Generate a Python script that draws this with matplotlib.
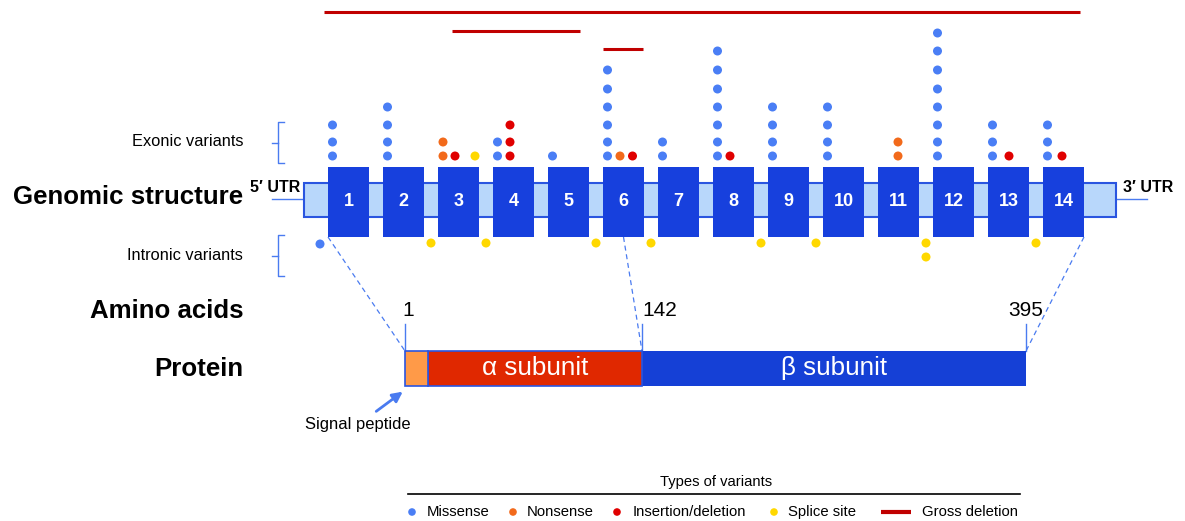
import matplotlib
matplotlib.use("Agg")
import matplotlib.pyplot as plt
from matplotlib.patches import Rectangle, FancyArrowPatch
import numpy as np

plt.rcParams['font.family'] = ['Liberation Sans', 'DejaVu Sans']

# ---- data ----
exons = list(range(1, 15))
missense = [3, 4, 0, 2, 1, 6, 2, 7, 4, 4, 0, 8, 3, 3]
nonsense = [0, 0, 2, 0, 0, 1, 0, 0, 0, 0, 2, 0, 0, 0]
indel = [0, 0, 1, 3, 0, 1, 0, 1, 0, 0, 0, 0, 1, 1]
splice_exonic = [0, 0, 1, 0, 0, 0, 0, 0, 0, 0, 0, 0, 0, 0]
# intronic variants, key = intron index (0 = upstream of exon 1, k = after exon k)
intron_missense = {0: 1}
intron_splice = {2: 1, 3: 1, 5: 1, 6: 1, 8: 1, 9: 1, 11: 2, 13: 1}
# gross deletions in exon units (k = left edge of exon k)
gross_del = [(0.93, 14.67), (3.25, 5.58), (6.0, 6.73)]
aa_marks = [1, 142, 395]
signal_end = 21
legend_names = ['Missense', 'Nonsense', 'Insertion/deletion', 'Splice site', 'Gross deletion']

# ---- style / layout ----
c_mis = '#4a7ef5'
c_non = '#f26a1b'
c_ind = '#e00000'
c_spl = '#ffd800'
c_del = '#c00000'
c_exon = '#1740dd'
c_utr = '#b8d7fb'
c_line = '#4a7bf0'

x0, pitch, ew = 328, 55, 41
ex_top, ex_bot = 167, 237
utr_l, utr_r, utr_top, utr_bot = 304, 1116, 183, 217
rows = [156, 142, 125, 107, 89, 70, 51, 33]
del_y = [12, 31, 49]
col_dx = {3: [5, 17, 37], 11: [20], 13: [4.5, 21], 14: [4.5, 19]}


def gx(u):
    return x0 + pitch * (u - 1)


# display positions of amino-acid breakpoints (figure is not to scale)
aa_ref = [1, signal_end, 142, 395]
aa_px = [405, 428, 642, 1026]


def ax_aa(a):
    return np.interp(a, aa_ref, aa_px)


fig = plt.figure(figsize=(11.85, 5.21), dpi=100)
ax = fig.add_axes([0, 0, 1, 1])
ax.set_xlim(0, 1185)
ax.set_ylim(521, 0)
ax.axis('off')

# gross deletions
for (s, e), y in zip(gross_del, del_y):
    ax.plot([gx(s), gx(e)], [y, y], color=c_del, lw=2.2, solid_capstyle='butt')

# UTR / intron backbone
ax.plot([272, utr_l], [199, 199], color=c_line, lw=1)
ax.plot([utr_r, 1147], [199, 199], color=c_line, lw=1)
ax.add_patch(Rectangle((utr_l, utr_top), utr_r - utr_l, utr_bot - utr_top,
                       facecolor=c_utr, edgecolor='#2a55e0', lw=1.5, zorder=2))

# exons
for k in exons:
    ax.add_patch(Rectangle((gx(k), ex_top), ew, ex_bot - ex_top, facecolor=c_exon,
                           edgecolor='none', zorder=3))
    ax.text(gx(k) + ew / 2, 201, str(k), color='white', fontsize=13, fontweight='bold',
            ha='center', va='center', zorder=4)

# exonic variants
for i, k in enumerate(exons):
    cols = []
    for n, c in [(missense[i], c_mis), (nonsense[i], c_non), (indel[i], c_ind), (splice_exonic[i], c_spl)]:
        if n > 0:
            cols.append((n, c))
    dxs = col_dx.get(k, [4.5 + 12.5 * j for j in range(len(cols))])
    for (n, c), dx in zip(cols, dxs):
        ax.scatter([gx(k) + dx] * n, rows[:n], s=42, color=c, edgecolors='none', zorder=5)


# intronic variants
def gap_center(g):
    if g == 0:
        return gx(1) - 8
    return (gx(g) + ew + gx(g + 1)) / 2


for g, n in intron_missense.items():
    ax.scatter([gap_center(g)] * n, [244 + 14 * j for j in range(n)], s=42, color=c_mis,
               edgecolors='none', zorder=5)
for g, n in intron_splice.items():
    ax.scatter([gap_center(g)] * n, [243 + 14 * j for j in range(n)], s=42, color=c_spl,
               edgecolors='none', zorder=5)

# brackets
for yt, yb in [(122, 163), (235, 276)]:
    ym = (yt + yb) / 2
    ax.plot([284, 278, 278, 284], [yt, yt, yb, yb], color=c_line, lw=1)
    ax.plot([272, 278], [ym, ym], color=c_line, lw=1)

# left labels
ax.text(243, 142, 'Exonic variants', fontsize=11.8, ha='right', va='center')
ax.text(243, 255, 'Intronic variants', fontsize=11.8, ha='right', va='center')
ax.text(243, 197, 'Genomic structure', fontsize=18.6, fontweight='bold', ha='right', va='center')
ax.text(243, 311, 'Amino acids', fontsize=18.6, fontweight='bold', ha='right', va='center')
ax.text(243, 369, 'Protein', fontsize=18.6, fontweight='bold', ha='right', va='center')
ax.text(300, 188, '5\u2032 UTR', fontsize=11.5, fontweight='bold', ha='right', va='center')
ax.text(1123, 188, '3\u2032 UTR', fontsize=11.5, fontweight='bold', ha='left', va='center')

# protein bar
pt, pb = 351, 386
ax.add_patch(Rectangle((ax_aa(142), pt), ax_aa(395) - ax_aa(142), pb - pt,
                       facecolor='#1540d6', edgecolor='none', zorder=2))
ax.add_patch(Rectangle((ax_aa(signal_end), pt), ax_aa(142) - ax_aa(signal_end), pb - pt,
                       facecolor='#e02800', edgecolor='#2a55e0', lw=1.2, zorder=3))
ax.add_patch(Rectangle((ax_aa(1), pt), ax_aa(signal_end) - ax_aa(1), pb - pt,
                       facecolor='#ff9a48', edgecolor='#2a55e0', lw=1.2, zorder=3))
ax.text((ax_aa(signal_end) + ax_aa(142)) / 2, 368, '\u03b1 subunit', color='white',
        fontsize=18.7, ha='center', va='center', zorder=4)
ax.text((ax_aa(142) + ax_aa(395)) / 2, 368, '\u03b2 subunit', color='white',
        fontsize=18.7, ha='center', va='center', zorder=4)

# amino-acid ticks and labels
for a in aa_marks:
    x = ax_aa(a)
    ax.plot([x, x], [324, pt], color=c_line, lw=1, zorder=1)
ax.text(ax_aa(1) + 3, 311, str(aa_marks[0]), fontsize=15, ha='center', va='center')
ax.text(ax_aa(142), 311, str(aa_marks[1]), fontsize=15, ha='left', va='center')
ax.text(ax_aa(395) + 17, 311, str(aa_marks[2]), fontsize=15, ha='right', va='center')

# dashed connectors exon -> protein
dash = dict(color=c_line, lw=0.9, ls=(0, (4, 3)), zorder=1)
ax.plot([gx(1), ax_aa(1)], [ex_bot, pt], **dash)
ax.plot([gx(6) + ew / 2, ax_aa(142)], [ex_bot, pt], **dash)
ax.plot([gx(14) + ew, ax_aa(395)], [ex_bot, pt], **dash)

# signal peptide arrow
ax.add_patch(FancyArrowPatch((374, 413), (405, 390), arrowstyle='-|>', mutation_scale=15,
                             color=c_line, lw=2))
ax.text(358, 425, 'Signal peptide', fontsize=11.9, ha='center', va='center')

# legend
ax.text(716, 482, 'Types of variants', fontsize=10.6, ha='center', va='center')
ax.plot([408, 1020], [494, 494], color='black', lw=1.2)
ly = 512
ax.scatter([412, 513, 617, 774], [ly] * 4, s=30, color=[c_mis, c_non, c_ind, c_spl],
           edgecolors='none')
ax.plot([881, 911], [ly, ly], color=c_del, lw=3, solid_capstyle='butt')
for x, name in zip([427, 527, 633, 788, 922], legend_names):
    ax.text(x, ly, name, fontsize=10.7, ha='left', va='center')

fig.savefig('out.png', dpi=100)
